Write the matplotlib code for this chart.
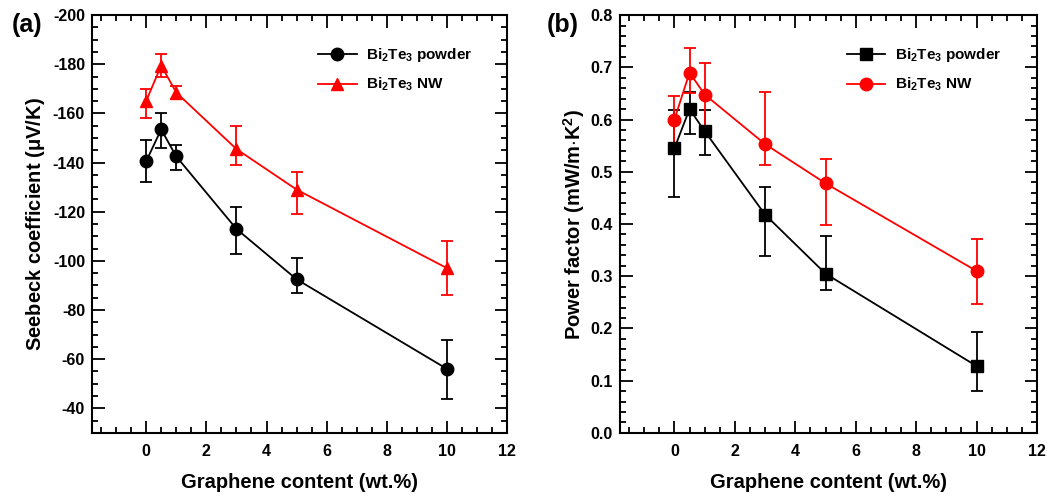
import matplotlib
matplotlib.use('Agg')
import matplotlib.pyplot as plt
from matplotlib.ticker import MultipleLocator, FormatStrFormatter
from matplotlib.lines import Line2D
import numpy as np

# Graphene content (wt.%)
content = [0, 0.5, 1, 3, 5, 10]

# (a) Seebeck coefficient (uV/K)
seebeck_powder = [-140.5, -153.5, -142.5, -113, -92.5, -56]
seebeck_powder_lo = [-132, -146, -137, -103, -87, -44]
seebeck_powder_hi = [-149, -160, -147, -122, -101, -68]
seebeck_nw = [-165, -179.5, -168.5, -145.5, -129, -97]
seebeck_nw_lo = [-158, -175, -166, -139, -119, -86]
seebeck_nw_hi = [-170, -184, -171, -155, -136, -108]

# (b) Power factor (mW/m.K^2)
pf_powder = [0.545, 0.620, 0.578, 0.418, 0.305, 0.128]
pf_powder_lo = [0.452, 0.572, 0.533, 0.338, 0.273, 0.080]
pf_powder_hi = [0.618, 0.652, 0.618, 0.470, 0.377, 0.193]
pf_nw = [0.600, 0.690, 0.648, 0.553, 0.478, 0.310]
pf_nw_lo = [0.550, 0.650, 0.585, 0.513, 0.398, 0.246]
pf_nw_hi = [0.645, 0.738, 0.708, 0.652, 0.525, 0.372]

label_powder = r'Bi$_\mathbf{2}$Te$_\mathbf{3}$ powder'
label_nw = r'Bi$_\mathbf{2}$Te$_\mathbf{3}$ NW'

plt.rcParams['font.family'] = ['Liberation Sans', 'DejaVu Sans']
plt.rcParams['font.weight'] = 'bold'
plt.rcParams['axes.unicode_minus'] = False
plt.rcParams['mathtext.fontset'] = 'custom'
plt.rcParams['mathtext.bf'] = 'Liberation Sans:bold'
plt.rcParams['mathtext.rm'] = 'Liberation Sans:bold'
plt.rcParams['mathtext.it'] = 'Liberation Sans:bold'
plt.rcParams['mathtext.default'] = 'bf'

RED = '#ff0000'
MS = 9


def errs(vals, a, b):
    v = np.array(vals)
    lo = np.minimum(a, b)
    hi = np.maximum(a, b)
    return np.vstack([v - lo, hi - v])


def style_axes(ax, marker_black, marker_red):
    for s in ax.spines.values():
        s.set_linewidth(1.5)
    ax.tick_params(which='both', direction='in', top=True, right=True, width=1.3,
                   labelsize=11.5)
    ax.tick_params(axis='x', pad=8)
    ax.tick_params(axis='y', pad=5)
    ax.tick_params(which='major', length=9)
    ax.tick_params(which='minor', length=4.5)
    ax.set_xlim(-1.8, 12)
    ax.xaxis.set_major_locator(MultipleLocator(2))
    ax.xaxis.set_minor_locator(MultipleLocator(0.5))
    ax.set_xlabel('Graphene content (wt.%)', fontsize=14.5, fontweight='bold', labelpad=10)
    handles = [Line2D([], [], color='black', marker=marker_black, markersize=MS, lw=1.3),
               Line2D([], [], color=RED, marker=marker_red, markersize=MS, lw=1.3)]
    ax.legend(handles, [label_powder, label_nw], loc='upper left',
              bbox_to_anchor=(0.545, 0.925), borderaxespad=0, borderpad=0,
              frameon=False, fontsize=11, handlelength=2.5, handletextpad=0.6,
              labelspacing=0.75)


fig = plt.figure(figsize=(10.57, 5.04), dpi=100)
ax1 = fig.add_axes([0.087, 0.141, 0.393, 0.829])
ax2 = fig.add_axes([0.5866, 0.141, 0.3945, 0.829])

eb = dict(markersize=MS, lw=1.3, capsize=4.5, elinewidth=1.3, capthick=1.3)

# panel (a)
ax1.errorbar(content, seebeck_powder, yerr=errs(seebeck_powder, seebeck_powder_lo, seebeck_powder_hi),
             color='black', marker='o', **eb)
ax1.errorbar(content, seebeck_nw, yerr=errs(seebeck_nw, seebeck_nw_lo, seebeck_nw_hi),
             color=RED, marker='^', **eb)
ax1.set_ylim(-30, -200)
ax1.set_yticks([-200, -180, -160, -140, -120, -100, -80, -60, -40])
ax1.yaxis.set_minor_locator(MultipleLocator(5))
ax1.yaxis.set_major_formatter(FormatStrFormatter('%d'))
ax1.set_ylabel(r'Seebeck coefficient ($\mathbf{\mu}$V/K)', fontsize=14.5, fontweight='bold', labelpad=4)
style_axes(ax1, 'o', '^')

# panel (b)
ax2.errorbar(content, pf_powder, yerr=errs(pf_powder, pf_powder_lo, pf_powder_hi),
             color='black', marker='s', **eb)
ax2.errorbar(content, pf_nw, yerr=errs(pf_nw, pf_nw_lo, pf_nw_hi),
             color=RED, marker='o', **eb)
ax2.set_ylim(0, 0.8)
ax2.yaxis.set_major_locator(MultipleLocator(0.1))
ax2.yaxis.set_minor_locator(MultipleLocator(0.02))
ax2.yaxis.set_major_formatter(FormatStrFormatter('%.1f'))
ax2.set_ylabel(r'Power factor (mW/m$\cdot$K$^\mathbf{2}$)', fontsize=14.5, fontweight='bold', labelpad=3)
style_axes(ax2, 's', 'o')

for ax in (ax1, ax2):
    for lbl in ax.get_xticklabels() + ax.get_yticklabels():
        lbl.set_fontweight('bold')

fig.text(0.011, 0.950, '(a)', fontsize=18, fontweight='bold', va='center')
fig.text(0.517, 0.950, '(b)', fontsize=18, fontweight='bold', va='center')

fig.savefig('out.png', dpi=100)
